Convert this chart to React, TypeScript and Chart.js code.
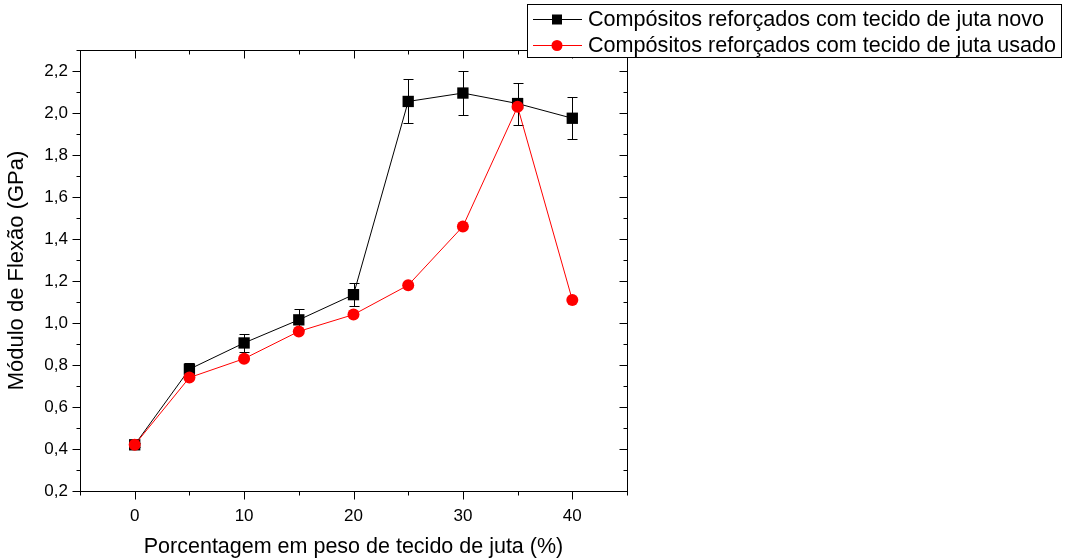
import { useEffect, useRef } from 'react';
import { Chart, registerables } from 'chart.js';

Chart.register(...registerables);

const xValues = [0, 5, 10, 15, 20, 25, 30, 35, 40];
const novoValues = [0.42, 0.78, 0.905, 1.015, 1.135, 2.055, 2.095, 2.045, 1.975];
const novoErrors = [0.01, 0.03, 0.045, 0.05, 0.055, 0.105, 0.105, 0.1, 0.1];
const usadoValues = [0.42, 0.74, 0.83, 0.96, 1.04, 1.18, 1.46, 2.03, 1.11];

const novoLabel = 'Compósitos reforçados com tecido de juta novo';
const usadoLabel = 'Compósitos reforçados com tecido de juta usado';
const xTitle = 'Porcentagem em peso de tecido de juta (%)';
const yTitle = 'Módulo de Flexão (GPa)';

const X_MIN = -5;
const X_MAX = 45;
const Y_MIN = 0.2;
const Y_MAX = 2.3;

const FONT = '"Liberation Sans", Arial, sans-serif';

const decoPlugin = {
  id: 'deco',
  beforeDatasetsDraw(chart: any) {
    const ctx = chart.ctx;
    const xs = chart.scales.x;
    const ys = chart.scales.y;
    ctx.save();
    ctx.strokeStyle = '#000';
    ctx.lineWidth = 1;
    novoValues.forEach((v, i) => {
      const px = Math.round(xs.getPixelForValue(xValues[i])) + 0.5;
      const y1 = Math.round(ys.getPixelForValue(v + novoErrors[i])) + 0.5;
      const y2 = Math.round(ys.getPixelForValue(v - novoErrors[i])) + 0.5;
      ctx.beginPath();
      ctx.moveTo(px, y1);
      ctx.lineTo(px, y2);
      ctx.moveTo(px - 5, y1);
      ctx.lineTo(px + 5, y1);
      ctx.moveTo(px - 5, y2);
      ctx.lineTo(px + 5, y2);
      ctx.stroke();
    });
    ctx.restore();
  },
  afterDraw(chart: any) {
    const ctx = chart.ctx;
    const { left, right, top, bottom } = chart.chartArea;
    const xs = chart.scales.x;
    const ys = chart.scales.y;
    ctx.save();
    ctx.strokeStyle = '#000';
    ctx.lineWidth = 1;
    const L = left + 0.5;
    const R = right + 0.5;
    const T = top + 0.5;
    const B = bottom + 0.5;
    ctx.strokeRect(L, T, R - L, B - T);
    ctx.beginPath();
    for (let v = X_MIN; v <= X_MAX; v += 5) {
      const len = v % 10 === 0 ? 8 : 4;
      const px = Math.round(xs.getPixelForValue(v)) + 0.5;
      ctx.moveTo(px, B);
      ctx.lineTo(px, B + len);
      ctx.moveTo(px, T);
      ctx.lineTo(px, T + len);
    }
    for (let k = 2; k <= 23; k++) {
      const len = k % 2 === 0 ? 8 : 4;
      const py = Math.round(ys.getPixelForValue(k / 10)) + 0.5;
      ctx.moveTo(L - len, py);
      ctx.lineTo(L, py);
      ctx.moveTo(R - len, py);
      ctx.lineTo(R, py);
    }
    ctx.stroke();

    // legend
    const bx = 527.5;
    const by = 4.5;
    const bw = 534;
    const bh = 53;
    ctx.fillStyle = '#fff';
    ctx.fillRect(bx, by, bw, bh);
    ctx.strokeRect(bx, by, bw, bh);
    ctx.font = '21.6px ' + FONT;
    ctx.textBaseline = 'middle';
    ctx.textAlign = 'left';
    const rows = [
      { y: 19.5, color: '#000', label: novoLabel, square: true },
      { y: 45.5, color: '#ff0000', label: usadoLabel, square: false },
    ];
    rows.forEach((r) => {
      ctx.strokeStyle = r.color;
      ctx.beginPath();
      ctx.moveTo(533, r.y);
      ctx.lineTo(582, r.y);
      ctx.stroke();
      ctx.fillStyle = r.color;
      if (r.square) {
        ctx.fillRect(552, r.y - 5, 10, 10);
      } else {
        ctx.beginPath();
        ctx.arc(557, r.y, 5.5, 0, Math.PI * 2);
        ctx.fill();
      }
      ctx.fillStyle = '#000';
      ctx.fillText(r.label, 588, r.y + 1);
    });
    ctx.restore();
  },
};

export default function App() {
  const canvasRef = useRef<HTMLCanvasElement | null>(null);

  useEffect(() => {
    const canvas = canvasRef.current;
    if (!canvas) return;
    const chart = new Chart(canvas, {
      type: 'line',
      data: {
        datasets: [
          {
            label: novoLabel,
            data: xValues.map((x, i) => ({ x, y: novoValues[i] })),
            borderColor: '#000',
            backgroundColor: '#000',
            borderWidth: 1,
            pointStyle: 'rect',
            pointRadius: 8,
            pointBorderWidth: 0,
            pointHoverRadius: 8,
            order: 2,
          },
          {
            label: usadoLabel,
            data: xValues.map((x, i) => ({ x, y: usadoValues[i] })),
            borderColor: '#ff0000',
            backgroundColor: '#ff0000',
            borderWidth: 1,
            pointStyle: 'circle',
            pointRadius: 6,
            pointBorderWidth: 0,
            pointHoverRadius: 6,
            order: 1,
          },
        ],
      },
      options: {
        animation: false,
        responsive: true,
        maintainAspectRatio: false,
        layout: { padding: { left: 0, top: 50, right: 439, bottom: 0 } },
        plugins: {
          legend: { display: false },
          tooltip: { enabled: false },
        },
        events: [],
        scales: {
          x: {
            type: 'linear',
            min: X_MIN,
            max: X_MAX,
            grid: { display: false, drawTicks: false },
            border: { display: false },
            afterFit: (s: any) => {
              s.height = 69;
            },
            ticks: {
              stepSize: 5,
              autoSkip: false,
              maxRotation: 0,
              padding: 15,
              color: '#000',
              font: { family: FONT, size: 17 },
              callback: (v: any) => (Number(v) % 10 === 0 ? String(v) : ''),
            },
            title: {
              display: true,
              text: xTitle,
              color: '#000',
              font: { family: FONT, size: 21.5 },
              padding: { top: 0, bottom: 0 },
            },
          },
          y: {
            type: 'linear',
            min: Y_MIN,
            max: Y_MAX,
            grid: { display: false, drawTicks: false },
            border: { display: false },
            afterFit: (s: any) => {
              s.width = 80;
            },
            ticks: {
              stepSize: 0.1,
              autoSkip: false,
              padding: 12,
              color: '#000',
              font: { family: FONT, size: 17 },
              callback: (v: any) => {
                const k = Math.round(Number(v) * 10);
                return k % 2 === 0 ? (k / 10).toFixed(1).replace('.', ',') : '';
              },
            },
            title: {
              display: true,
              text: yTitle,
              color: '#000',
              font: { family: FONT, size: 22 },
              padding: { top: 4, bottom: 0 },
            },
          },
        },
      },
      plugins: [decoPlugin],
    });
    return () => chart.destroy();
  }, []);

  return (
    <div style={{ position: 'fixed', left: 0, top: 0, width: 1066, height: 560, background: '#fff' }}>
      <canvas ref={canvasRef} />
    </div>
  );
}
